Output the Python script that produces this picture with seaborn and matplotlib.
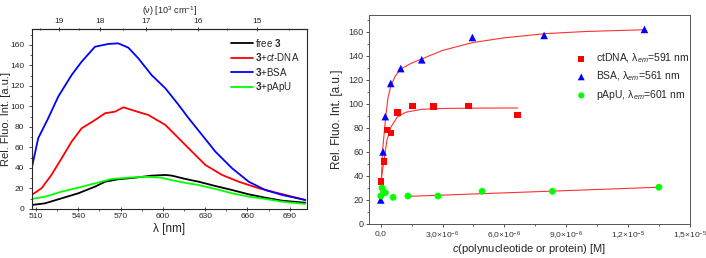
import numpy as np
import pandas as pd
import seaborn as sns
import matplotlib.pyplot as plt
from matplotlib.ticker import MultipleLocator, FixedLocator

# Left panel: emission spectra
wl_blue = [507, 511.6, 518.7, 525.8, 535.3, 542.4, 551.9, 561.3, 568.4, 575.5, 582.6, 592,
           601.8, 611.2, 618.3, 627.8, 637.3, 649.1, 660.9, 672.7, 684.6, 701]
int_blue = [39.7, 69, 88.5, 109.6, 130.7, 143.7, 158.3, 161, 161.6, 157.4, 147, 130.7,
            117.7, 101.5, 88.5, 72.2, 55.9, 39.7, 26.6, 18.5, 13.7, 8.8]
wl_red = [507, 514, 521, 528.2, 535.3, 542.4, 551.9, 559, 566, 572, 580.3, 589.7,
          601.8, 611.2, 620.7, 630.2, 642, 653.8, 668, 682.2, 701]
int_red = [13.7, 20.2, 33.2, 49.4, 65.7, 78.7, 86.8, 93.4, 94.9, 99.2, 95.6, 91.7,
           82, 69, 55.9, 42.9, 33.2, 26.6, 20.2, 15.3, 8.8]
wl_black = [507, 516.4, 528.2, 540, 551.9, 559, 568.4, 580.3, 592, 601.8, 606.5, 616,
            625.4, 637.3, 649.1, 660.9, 672.7, 684.6, 701]
int_black = [3.9, 5.5, 10.4, 15.3, 21.8, 26.6, 29, 30.5, 32.5, 33.2, 32.5, 29.3,
             26.6, 22.4, 18.5, 14.3, 11, 8.1, 6.1]
wl_green = [507, 516.4, 528.2, 540, 551.9, 563.7, 575.5, 587.4, 599.1, 602.6, 613.6,
            625.4, 637.3, 649.1, 660.9, 672.7, 684.6, 701]
int_green = [9.8, 12, 16.9, 20.8, 25, 29.3, 30.5, 31.5, 30.5, 29.3, 26,
             23.4, 19.5, 15.3, 12, 9.8, 7.1, 4.9]

# Right panel: titration points
c_ct = [0, 1.46e-7, 3.1e-7, 4.85e-7, 8.1e-7, 1.53e-6, 2.55e-6, 4.25e-6, 6.65e-6]
f_ct = [35.3, 52, 78.3, 75.8, 92.8, 98.2, 97.8, 98.2, 90.8]
c_bsa = [0, 1.1e-7, 2.2e-7, 4.85e-7, 9.7e-7, 1.99e-6, 4.45e-6, 7.93e-6, 1.28e-5]
f_bsa = [20, 60, 89.4, 117, 129.4, 136.7, 155.3, 157, 162]
c_pa = [0, 6e-8, 2.2e-7, 6e-7, 1.32e-6, 2.78e-6, 4.92e-6, 8.33e-6, 1.35e-5]
f_pa = [23.3, 30, 26.1, 22.2, 23.3, 23.3, 27.2, 27.2, 30.6]

# fitted curves, as traced
fit_ct_c = [0, 1.5e-7, 3e-7, 5e-7, 8e-7, 1.2e-6, 2e-6, 3e-6, 5e-6, 6.65e-6]
fit_ct_f = [35, 52, 70, 81, 89, 93, 95.5, 96.2, 96.5, 96.6]
fit_bsa_c = [0, 8e-8, 2.4e-7, 3.5e-7, 4.85e-7, 7e-7, 9.7e-7, 1.5e-6, 2e-6, 3e-6,
             4.45e-6, 6e-6, 8e-6, 1e-5, 1.28e-5]
fit_bsa_f = [20, 59.7, 89, 105, 115, 123, 129, 134, 137.5, 144.5, 151, 155, 158.5, 160.3, 161.7]
fit_pa_c = [1.32e-6, 1.35e-5]
fit_pa_f = [23.0, 30.6]

sns.set_style("ticks")
plt.rcParams['font.family'] = ['Liberation Sans', 'DejaVu Sans']
plt.rcParams['mathtext.fontset'] = 'custom'
plt.rcParams['mathtext.rm'] = 'Liberation Sans'
plt.rcParams['mathtext.it'] = 'Liberation Sans:italic'
plt.rcParams['mathtext.bf'] = 'Liberation Sans:bold'

fig = plt.figure(figsize=(7.06, 2.58), dpi=100)
ax1 = fig.add_axes([0.0453, 0.19, 0.3897, 0.6976])
ax2 = fig.add_axes([0.5227, 0.1318, 0.4543, 0.8101])

spectra = [
    (wl_black, int_black, 'black', 'free $\\mathbf{3}$'),
    (wl_red, int_red, '#ff0000', '$\\mathbf{3}$+$\\it{ct}$-DNA'),
    (wl_blue, int_blue, '#0000ff', '$\\mathbf{3}$+BSA'),
    (wl_green, int_green, '#00ff00', '$\\mathbf{3}$+pApU'),
]
for wl, inten, col, lab in spectra:
    df = pd.DataFrame({'wl': wl, 'I': inten})
    sns.lineplot(data=df, x='wl', y='I', ax=ax1, color=col, lw=1.3, label=lab,
                 sort=False, estimator=None)

ax1.set_xlim(507.2, 702.3)
ax1.set_ylim(0, 175.6)
ax1.xaxis.set_major_locator(MultipleLocator(30))
ax1.xaxis.set_minor_locator(MultipleLocator(15))
ax1.yaxis.set_major_locator(MultipleLocator(20))
ax1.yaxis.set_minor_locator(MultipleLocator(10))
ax1.set_xlabel('λ [nm]', fontsize=8.5, labelpad=2)
ax1.set_ylabel('Rel. Fluo. Int. [a.u.]', fontsize=8)
ax1.yaxis.set_label_coords(-0.078, 0.5)
ax1.tick_params(axis='y', labelsize=6, length=2.5, width=0.6, pad=3)
ax1.tick_params(axis='x', labelsize=6, length=3, width=0.6, pad=1.5, direction='inout')
ax1.tick_params(which='minor', length=1.5, width=0.5)
ax1.legend(loc='upper right', frameon=False, fontsize=7, handlelength=2.2,
           handletextpad=0.2, labelspacing=0.25, borderaxespad=0.4)

top = ax1.secondary_xaxis('top', functions=(lambda x: 1e4 / x, lambda x: 1e4 / x))
top.xaxis.set_major_locator(FixedLocator([15, 16, 17, 18, 19]))
top.xaxis.set_minor_locator(FixedLocator([14.5, 15.5, 16.5, 17.5, 18.5, 19.5]))
top.tick_params(labelsize=6, length=3, width=0.6, pad=1.5, direction='inout')
top.tick_params(which='minor', length=2, width=0.5, direction='inout')
top.set_xlabel('(ν) [10$^3$ cm$^{-1}$]', fontsize=6.5, labelpad=3)

for spine in ax1.spines.values():
    spine.set_visible(True)
    spine.set_linewidth(0.8)

# right panel
sns.scatterplot(x=c_ct, y=f_ct, ax=ax2, color='#ff0000', marker='s', s=22,
                edgecolor='none', label='ctDNA, λ$_{em}$=591 nm', zorder=3)
sns.scatterplot(x=c_bsa, y=f_bsa, ax=ax2, color='#0000ff', marker='^', s=30,
                edgecolor='none', label='BSA, λ$_{em}$=561 nm', zorder=3)
sns.scatterplot(x=c_pa, y=f_pa, ax=ax2, color='#00ff00', marker='o', s=24,
                edgecolor='none', label='pApU, λ$_{em}$=601 nm', zorder=3)
for cx, fy in [(fit_ct_c, fit_ct_f), (fit_bsa_c, fit_bsa_f), (fit_pa_c, fit_pa_f)]:
    sns.lineplot(x=cx, y=fy, ax=ax2, color='#ff3030', lw=0.8, sort=False,
                 estimator=None, zorder=2)

ax2.set_xlim(-5.7e-7, 1.5e-5)
ax2.set_ylim(0, 174)
ax2.xaxis.set_major_locator(FixedLocator([0, 3e-6, 6e-6, 9e-6, 1.2e-5, 1.5e-5]))
ax2.xaxis.set_minor_locator(MultipleLocator(1.5e-6))
ax2.set_xticklabels(['0,0', '3,0×10$^{-6}$', '6,0×10$^{-6}$', '9,0×10$^{-6}$',
                     '1,2×10$^{-5}$', '1,5×10$^{-5}$'])
ax2.yaxis.set_major_locator(MultipleLocator(20))
ax2.yaxis.set_minor_locator(MultipleLocator(10))
ax2.set_xlabel('$\\it{c}$(polynucleotide or protein) [M]', fontsize=8, labelpad=0)
ax2.set_ylabel('Rel. Fluo. Int. [a.u.]', fontsize=8.5, labelpad=4)
ax2.tick_params(labelsize=6.5, length=2.5, width=0.6, pad=1.5, colors='#333333')
ax2.tick_params(axis='x', labelsize=6)
ax2.tick_params(which='minor', length=1.5, width=0.5)
ax2.legend(loc='upper left', bbox_to_anchor=(0.6, 0.87), frameon=False, fontsize=7.5,
           handletextpad=0.4, labelspacing=0.45, markerscale=0.9)
for spine in ax2.spines.values():
    spine.set_visible(True)
    spine.set_linewidth(0.7)
    spine.set_color('#555555')

fig.savefig('out.png', dpi=100)
